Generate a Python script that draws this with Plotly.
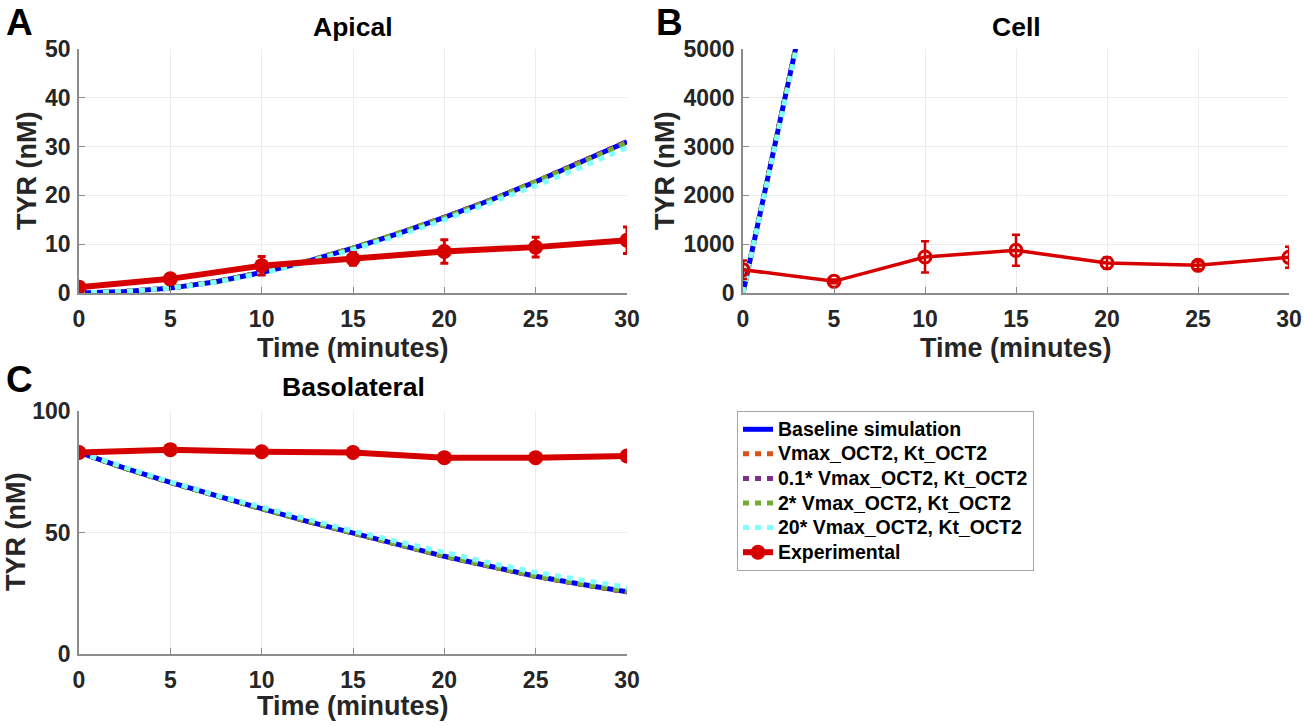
import plotly.graph_objects as go

# ---------------- data ----------------
t_sim = [0, 2.5, 5, 7.5, 10, 12.5, 15, 17.5, 20, 22.5, 25, 27.5, 30]
t_exp = [0, 5, 10, 15, 20, 25, 30]
x_ticks = [0, 5, 10, 15, 20, 25, 30]

# Apical
api_base = [0, 0.3, 1.0, 2.3, 4.2, 6.5, 9.2, 12.2, 15.5, 19.0, 22.8, 26.8, 31.0]
api_v1 = [0, 0.3, 1.0, 2.3, 4.2, 6.5, 9.2, 12.2, 15.5, 19.0, 22.8, 26.8, 31.0]
api_v01 = [0, 0.3, 1.0, 2.3, 4.2, 6.5, 9.2, 12.2, 15.5, 19.0, 22.8, 26.8, 31.0]
api_v2 = [0, 0.3, 1.0, 2.3, 4.2, 6.5, 9.2, 12.2, 15.4, 18.9, 22.7, 26.7, 30.8]
api_v20 = [0, 0.3, 1.0, 2.2, 4.0, 6.3, 8.9, 11.8, 15.0, 18.4, 22.0, 25.8, 29.8]
api_exp = [1.2, 2.9, 5.6, 7.0, 8.5, 9.4, 10.8]
api_err = [0.5, 0.6, 1.9, 1.3, 2.4, 2.0, 2.7]
api_yticks = [0, 10, 20, 30, 40, 50]

# Cell
t_cell_sim = [0, 1, 2, 3, 4]
cell_base = [0, 1700, 3450, 5200, 6950]
cell_v1 = [0, 1700, 3450, 5200, 6950]
cell_v01 = [0, 1700, 3450, 5200, 6950]
cell_v2 = [0, 1700, 3440, 5180, 6920]
cell_v20 = [0, 1680, 3400, 5120, 6850]
cell_exp = [478, 239, 738, 874, 615, 567, 731]
cell_err = [190, 40, 320, 318, 120, 80, 215]
cell_yticks = [0, 1000, 2000, 3000, 4000, 5000]

# Basolateral
baso_base = [83, 76.5, 70.6, 65.0, 59.8, 54.6, 49.6, 45.0, 40.2, 36.0, 32.0, 28.7, 25.6]
baso_v1 = [83, 76.5, 70.6, 65.0, 59.8, 54.6, 49.6, 45.0, 40.2, 36.0, 32.0, 28.7, 25.6]
baso_v01 = [83, 76.5, 70.6, 65.0, 59.8, 54.6, 49.6, 45.0, 40.2, 36.0, 32.0, 28.7, 25.6]
baso_v2 = [83, 76.5, 70.6, 65.0, 59.8, 54.7, 49.7, 45.1, 40.3, 36.1, 32.1, 28.8, 25.8]
baso_v20 = [83, 76.7, 70.9, 65.4, 60.3, 55.3, 50.6, 46.2, 41.6, 37.5, 33.6, 30.3, 27.4]
baso_exp = [82.9, 84.1, 83.2, 82.9, 80.8, 80.8, 81.5]
baso_yticks = [0, 50, 100]

names = ["Baseline simulation", "Vmax_OCT2, Kt_OCT2", "0.1* Vmax_OCT2, Kt_OCT2",
         "2* Vmax_OCT2, Kt_OCT2", "20* Vmax_OCT2, Kt_OCT2", "Experimental"]
panel_titles = ["Apical", "Cell", "Basolateral"]
panel_letters = ["A", "B", "C"]
x_title = "Time (minutes)"
y_title = "TYR (nM)"

colors = ["rgb(0,0,255)", "#D95319", "#7E2F8E", "#77AC30", "rgb(128,255,255)"]
RED = "rgb(214,0,0)"
FONT = "Liberation Sans"
LEG_TXT = 19.5

def leg_name(s):
    return '<span style="font-size:%spx">%s</span>' % (LEG_TXT, s)

fig = go.Figure()

panels = [
    ("x", "y", t_sim, [api_base, api_v1, api_v01, api_v2, api_v20], api_exp, api_err, "A"),
    ("x2", "y2", t_cell_sim, [cell_base, cell_v1, cell_v01, cell_v2, cell_v20], cell_exp, cell_err, "B"),
    ("x3", "y3", t_sim, [baso_base, baso_v1, baso_v01, baso_v2, baso_v20], baso_exp, None, "C"),
]

for xa, ya, ts, sims, ex, er, tag in panels:
    first = tag == "A"
    for i, s in enumerate(sims):
        fig.add_trace(go.Scatter(
            x=ts, y=s, mode="lines", name=leg_name(names[i]), xaxis=xa, yaxis=ya,
            showlegend=first, legendrank=i + 1,
            line=dict(color=colors[i], width=5,
                      dash="solid" if i == 0 else "6px,6px"),
        ))
    if tag == "B":
        fig.add_trace(go.Scatter(
            x=t_exp, y=ex, mode="lines+markers", name=leg_name(names[5]), xaxis=xa, yaxis=ya,
            showlegend=False,
            line=dict(color=RED, width=3.5),
            marker=dict(symbol="circle-open", size=12, color=RED, line=dict(width=3)),
            error_y=dict(type="data", array=er, color=RED, thickness=2.5, width=4),
        ))
    else:
        fig.add_trace(go.Scatter(
            x=t_exp, y=ex, mode="lines+markers", name=leg_name(names[5]), xaxis=xa, yaxis=ya,
            showlegend=first, legendrank=6,
            line=dict(color=RED, width=6),
            marker=dict(symbol="circle", size=15, color=RED),
            error_y=(dict(type="data", array=er, color=RED, thickness=3, width=4)
                     if er is not None else None),
        ))

W, H = 1304, 727
def px_x(p):
    return p / W
def px_y(p):
    return 1 - p / H

def axis_style(standoff):
    return dict(
        showline=True, linecolor="#8c8c8c", linewidth=1.5, mirror=False,
        showgrid=True, gridcolor="#ececec", gridwidth=1,
        ticks="inside", ticklen=6, tickcolor="#8c8c8c",
        tickfont=dict(family=FONT, size=23, color="#262626", weight="bold"),
        zeroline=False, automargin=False, ticklabelstandoff=standoff,
    )

xA = [px_x(79), px_x(627)]
xB = [px_x(743), px_x(1289)]
yTop = [px_y(293), px_y(49)]
yBot = [px_y(654), px_y(411)]

fig.update_layout(
    width=W, height=H,
    margin=dict(l=0, r=0, t=0, b=0, autoexpand=False),
    paper_bgcolor="white", plot_bgcolor="white",
    xaxis=dict(domain=xA, anchor="y", range=[0, 30], tickvals=x_ticks, **axis_style(5)),
    yaxis=dict(domain=yTop, anchor="x", range=[0, 50], tickvals=api_yticks, **axis_style(2)),
    xaxis2=dict(domain=xB, anchor="y2", range=[0, 30], tickvals=x_ticks, **axis_style(5)),
    yaxis2=dict(domain=yTop, anchor="x2", range=[0, 5000], tickvals=cell_yticks, **axis_style(2)),
    xaxis3=dict(domain=xA, anchor="y3", range=[0, 30], tickvals=x_ticks, **axis_style(5)),
    yaxis3=dict(domain=yBot, anchor="x3", range=[0, 100], tickvals=baso_yticks, **axis_style(2)),
    legend=dict(
        x=px_x(737), y=px_y(411), xanchor="left", yanchor="top",
        bgcolor="white", bordercolor="#a6a6a6", borderwidth=1,
        font=dict(family=FONT, size=16.6, color="black", weight="bold"),
        itemwidth=30, tracegroupgap=0,
    ),
    showlegend=True,
    hovermode=False,
)

def ann(text, cx, cy, size, color="black", angle=0):
    fig.add_annotation(x=px_x(cx), y=px_y(cy), xref="paper", yref="paper",
                       text=text, showarrow=False, xanchor="center", yanchor="middle",
                       textangle=angle,
                       font=dict(family=FONT, size=size, color=color, weight="bold"))

# panel titles
ann(panel_titles[0], (79 + 627) / 2, 27, 26.5)
ann(panel_titles[1], (743 + 1289) / 2, 27, 26.5)
ann(panel_titles[2], (79 + 627) / 2, 387, 26.5)
# panel letters
ann(panel_letters[0], 19, 22, 37)
ann(panel_letters[1], 669, 22, 37)
ann(panel_letters[2], 19, 379, 37)
# axis titles
ann(x_title, (79 + 627) / 2, 348, 27, "#262626")
ann(x_title, (743 + 1289) / 2, 348, 27, "#262626")
ann(x_title, (79 + 627) / 2, 706, 27, "#262626")
ann(y_title, 27, 171, 27, "#262626", -90)
ann(y_title, 665, 171, 27, "#262626", -90)
ann(y_title, 16, 532, 27, "#262626", -90)

# remove the page's default body margin so the figure fills the window exactly
fig.write_html("out.html",
               config={"displayModeBar": False},
               post_script="document.body.style.margin='0';document.body.style.overflow='hidden';")
